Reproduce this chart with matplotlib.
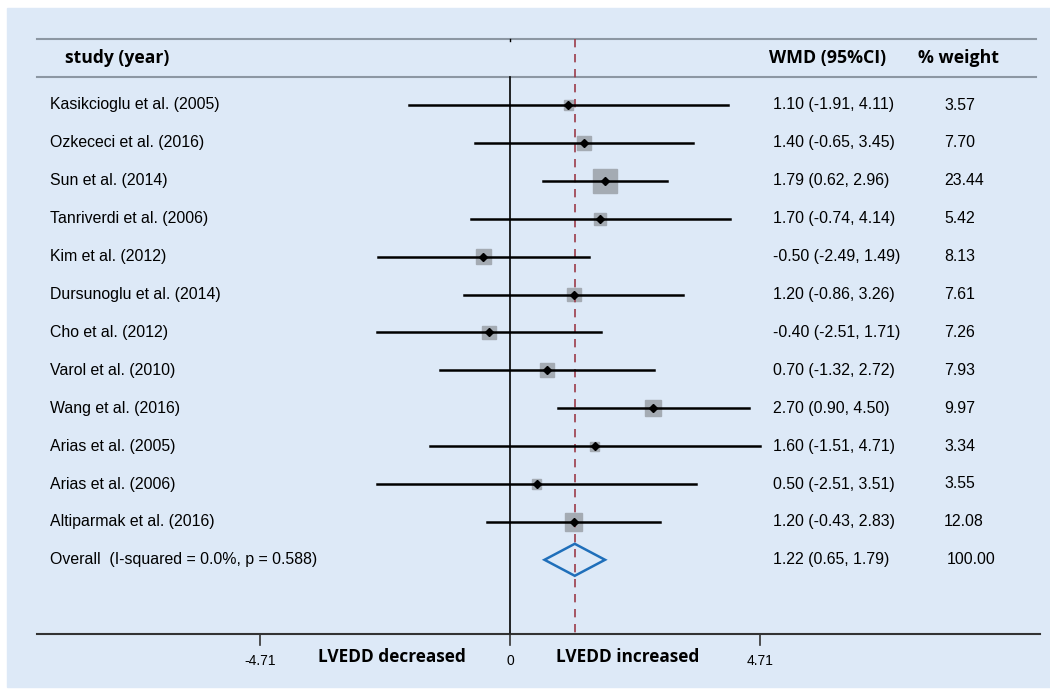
import numpy as np
import matplotlib.pyplot as plt
from matplotlib.patches import Rectangle, Polygon

studies = ["Kasikcioglu et al. (2005)", "Ozkececi et al. (2016)", "Sun et al. (2014)",
           "Tanriverdi et al. (2006)", "Kim et al. (2012)", "Dursunoglu et al. (2014)",
           "Cho et al. (2012)", "Varol et al. (2010)", "Wang et al. (2016)",
           "Arias et al. (2005)", "Arias et al. (2006)", "Altiparmak et al. (2016)"]
wmd = [1.10, 1.40, 1.79, 1.70, -0.50, 1.20, -0.40, 0.70, 2.70, 1.60, 0.50, 1.20]
lo = [-1.91, -0.65, 0.62, -0.74, -2.49, -0.86, -2.51, -1.32, 0.90, -1.51, -2.51, -0.43]
hi = [4.11, 3.45, 2.96, 4.14, 1.49, 3.26, 1.71, 2.72, 4.50, 4.71, 3.51, 2.83]
weight = [3.57, 7.70, 23.44, 5.42, 8.13, 7.61, 7.26, 7.93, 9.97, 3.34, 3.55, 12.08]
overall = (1.22, 0.65, 1.79)
overall_label = "Overall  (I-squared = 0.0%, p = 0.588)"
xticks = [-4.71, 0, 4.71]

W, H = 1050, 689
px = 53.08          # pixels per WMD unit
row = 37.9          # pixels per row
fig = plt.figure(figsize=(W / 100, H / 100), dpi=100, facecolor="white")
ax = fig.add_axes([0, 0, 1, 1])
ax.set_xlim(-510 / px, (W - 510) / px)
ax.set_ylim((H - 105) / row, -105 / row)
ax.axis("off")

def X(p):  # pixel -> data x
    return (p - 510) / px

def Y(p):  # pixel -> data y
    return (p - 105) / row

bg = "#dde9f7"
ax.add_patch(Rectangle((X(7), Y(8)), X(1050) - X(7), Y(687) - Y(8), color=bg, zorder=0))

# header and axis lines
ax.plot([X(37), X(1036)], [Y(39), Y(39)], color="#8c97a3", lw=1.5)
ax.plot([X(37), X(1036)], [Y(77), Y(77)], color="#8c97a3", lw=1.5)
ax.plot([X(37), X(1040)], [Y(634), Y(634)], color="#333333", lw=1.5)

# reference lines
ax.plot([0, 0], [Y(77), Y(634)], color="black", lw=1.2)
ax.plot([0, 0], [Y(39), Y(41)], color="black", lw=1)
ax.plot([overall[0]] * 2, [Y(39), Y(634)], color="#9b3b4a", lw=1.2, ls=(0, (5, 4)))

hfont = ["Open Sans", "DejaVu Sans"]
ax.text(X(65), Y(58), "study (year)", fontsize=12.6, fontweight="bold", family=hfont, va="center")
ax.text(X(828), Y(58), "WMD (95%CI)", fontsize=12.8, fontweight="bold", family=hfont, va="center", ha="center")
ax.text(X(959), Y(58), "% weight", fontsize=12.8, fontweight="bold", family=hfont, va="center", ha="center")

rfont = ["Liberation Sans", "DejaVu Sans"]
fs = 11.4
for i, (s, m, l, h, w) in enumerate(zip(studies, wmd, lo, hi, weight)):
    ax.plot([l, h], [i, i], color="black", lw=1.8, zorder=2)
    side = 5.0 * np.sqrt(w) / px
    sideh = 5.0 * np.sqrt(w) / row
    ax.add_patch(Rectangle((m - side / 2, i - sideh / 2), side, sideh,
                           color="#a4abb3", zorder=1))
    ax.plot(m, i, marker="D", ms=4.5, color="black", zorder=3)
    ax.text(X(50), i, s, fontsize=fs, family=rfont, va="center")
    ax.text(X(773), i, f"{m:.2f} ({l:.2f}, {h:.2f})", fontsize=fs, family=rfont, va="center")
    ax.text(X(944), i, f"{w:.2f}", fontsize=fs, family=rfont, va="center")

n = len(studies)
m, l, h = overall
dh = 16 / row
ax.add_patch(Polygon([[l, n], [m, n - dh], [h, n], [m, n + dh]], closed=True,
                     fill=False, edgecolor="#1f6fba", lw=1.8, zorder=3))
ax.text(X(50), n, overall_label, fontsize=fs, family=rfont, va="center")
ax.text(X(773), n, f"{m:.2f} ({l:.2f}, {h:.2f})", fontsize=fs, family=rfont, va="center")
ax.text(X(947), n, "100.00", fontsize=fs, family=rfont, va="center")

for t in xticks:
    ax.plot([t, t], [Y(634), Y(645)], color="#333333", lw=1.2)
    ax.text(t, Y(661), f"{t:g}", fontsize=10, family=rfont, ha="center", va="center")
ax.text(X(392), Y(657), "LVEDD decreased", fontsize=12.4, fontweight="bold", family=hfont, ha="center", va="center")
ax.text(X(628), Y(657), "LVEDD increased", fontsize=12.4, fontweight="bold", family=hfont, ha="center", va="center")

fig.savefig("out.png", dpi=100, facecolor="white")
